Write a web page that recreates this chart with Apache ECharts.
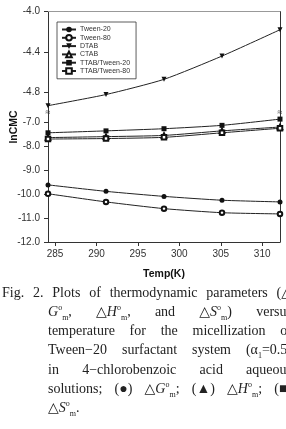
<!DOCTYPE html>
<html>
<head>
<meta charset="utf-8">
<script src="https://cdn.jsdelivr.net/npm/echarts@6/dist/echarts.min.js"></script>
<style>
  html, body { margin: 0; padding: 0; background: #fff; overflow: hidden; }
  #chart { position: absolute; left: 0; top: 0; width: 286px; height: 285px; }
  .cap { position: absolute; font-family: "Liberation Serif", "DejaVu Serif", serif; font-size: 14px;
         line-height: 19.2px; color: #222; white-space: nowrap; }
  .cap .ln { text-align: justify; text-align-last: justify; text-justify: inter-word; white-space: normal; }
  .cap i { font-style: italic; }
  .cap .nb { display: inline-block; white-space: nowrap; }
  .cap sup, .cap sub { font-size: 8px; line-height: 0; }
</style>
</head>
<body>
<div id="chart"></div>
<div class="cap" style="left:2px; top:283px; width:290px;">
  <div class="ln">Fig. 2. Plots of thermodynamic parameters <span class="nb">(△</span></div>
</div>
<div class="cap" style="left:48px; top:302px; width:244px;">
  <div class="ln"><span class="nb"><i>G</i><sup>o</sup><sub>m</sub>,</span> <span class="nb">△<i>H</i><sup>o</sup><sub>m</sub>,</span> and <span class="nb">△<i>S</i><sup>o</sup><sub>m</sub>)</span> versus</div>
  <div class="ln">temperature for the micellization of</div>
  <div class="ln">Tween−20 surfactant system <span class="nb">(α<sub>1</sub>=0.5)</span></div>
  <div class="ln">in 4−chlorobenzoic acid aqueous</div>
  <div class="ln">solutions; <span class="nb">(●)</span> <span class="nb">△<i>G</i><sup>o</sup><sub>m</sub>;</span> <span class="nb">(▲)</span> <span class="nb">△<i>H</i><sup>o</sup><sub>m</sub>;</span> <span class="nb">(■)</span></div>
  <div><span class="nb">△<i>S</i><sup>o</sup><sub>m</sub>.</span></div>
</div>
<script>
// temperatures (K)
const temps = [284.15, 291.15, 298.15, 305.15, 312.15];
// lnCMC values
const tween20 = [-9.62, -9.89, -10.10, -10.26, -10.33];
const tween80 = [-9.99, -10.33, -10.61, -10.78, -10.83];
const dtab = [-4.93, -4.82, -4.67, -4.44, -4.18];
const ctab = [-7.65, -7.61, -7.56, -7.37, -7.21];
const ttabTween20 = [-7.45, -7.37, -7.28, -7.14, -6.88];
const ttabTween80 = [-7.71, -7.69, -7.64, -7.45, -7.26];

const xTicks = [285, 290, 295, 300, 305, 310];
const upperTicks = [-4.8, -4.4, -4.0];
const lowerTicks = [-12, -11, -10, -9, -8, -7];

const pairs = (ys) => temps.map((t, i) => [t, ys[i]]);

const chart = echarts.init(document.getElementById("chart"));

const fmt = (v) => v.toFixed(1);
const labelStyle = { fontSize: 10, color: "#333", fontFamily: "Liberation Sans" };

function series(name, data, symbol, opts) {
  return Object.assign(
    {
      name: name,
      type: "line",
      data: pairs(data),
      symbol: symbol,
      symbolSize: 5,
      smooth: 0.2,
      clip: false,
      xAxisIndex: 1,
      yAxisIndex: 2,
      lineStyle: { color: "#222", width: 1 },
      itemStyle: { color: "#111", borderWidth: 1 },
    },
    opts || {}
  );
}

const option = {
  animation: false,
  textStyle: { fontFamily: "Liberation Sans" },
  grid: [
    { left: 48, right: 6, top: 11.5, height: 101.25 },
    { left: 48, right: 6, top: 112.75, height: 129.25 },
  ],
  legend: {
    orient: "vertical",
    left: 57,
    top: 22,
    itemWidth: 14,
    itemHeight: 7,
    itemGap: 1,
    padding: [4, 6, 4, 4],
    borderColor: "#333",
    borderWidth: 0.8,
    textStyle: { fontSize: 7, lineHeight: 7, color: "#333", padding: [0, 0, 0, -1] },
    data: ["Tween-20", "Tween-80", "DTAB", "CTAB", "TTAB/Tween-20", "TTAB/Tween-80"],
  },
  xAxis: [
    {
      gridIndex: 0,
      type: "value",
      min: 284.15,
      max: 312.15,
      position: "top",
      axisLine: { show: true, lineStyle: { color: "#999", width: 1 } },
      axisTick: { show: false },
      axisLabel: { show: false },
      splitLine: { show: false },
    },
    {
      gridIndex: 1,
      type: "value",
      min: 284.15,
      max: 312.15,
      position: "bottom",
      axisLine: { show: true, lineStyle: { color: "#333", width: 1 } },
      axisTick: { show: true, length: 4, customValues: xTicks, lineStyle: { color: "#333" } },
      axisLabel: Object.assign({ customValues: xTicks, margin: 7 }, labelStyle),
      splitLine: { show: false },
      name: "Temp(K)",
      nameLocation: "middle",
      nameGap: 27,
      nameTextStyle: { fontSize: 10.5, fontWeight: "bold", color: "#111" },
    },
  ],
  yAxis: [
    {
      gridIndex: 0,
      type: "value",
      min: -5.0,
      max: -4.0,
      axisLine: { show: true, lineStyle: { color: "#333", width: 1 } },
      axisTick: { show: true, length: 4, customValues: upperTicks, lineStyle: { color: "#333" } },
      axisLabel: Object.assign({ customValues: upperTicks, formatter: fmt, margin: 8 }, labelStyle),
      splitLine: { show: false },
    },
    {
      gridIndex: 0,
      type: "value",
      position: "right",
      min: -5.0,
      max: -4.0,
      axisLine: { show: true, lineStyle: { color: "#333", width: 1 } },
      axisTick: { show: false },
      axisLabel: { show: false },
      splitLine: { show: false },
    },
    {
      gridIndex: 1,
      type: "value",
      min: -12,
      max: -6.615,
      axisLine: { show: true, lineStyle: { color: "#333", width: 1 } },
      axisTick: { show: true, length: 4, customValues: lowerTicks, lineStyle: { color: "#333" } },
      axisLabel: Object.assign({ customValues: lowerTicks, formatter: fmt, margin: 8 }, labelStyle),
      splitLine: { show: false },
    },
    {
      gridIndex: 1,
      type: "value",
      position: "right",
      min: -12,
      max: -6.615,
      axisLine: { show: true, lineStyle: { color: "#333", width: 1 } },
      axisTick: { show: false },
      axisLabel: { show: false },
      splitLine: { show: false },
    },
  ],
  graphic: [
    {
      type: "text",
      x: 14,
      y: 127,
      rotation: Math.PI / 2,
      style: {
        text: "lnCMC",
        fontSize: 10.5,
        fontWeight: "bold",
        fill: "#111",
        align: "center",
        verticalAlign: "middle",
        fontFamily: "Liberation Sans",
      },
    },
    // axis break marks
    { type: "text", x: 48, y: 112.5, style: { text: "≈", fontSize: 9, fill: "#333", align: "center", verticalAlign: "middle" } },
    { type: "text", x: 280, y: 112.5, style: { text: "≈", fontSize: 9, fill: "#333", align: "center", verticalAlign: "middle" } },
  ],
  series: [
    series("Tween-20", tween20, "circle"),
    series("Tween-80", tween80, "emptyCircle", { symbolSize: 4.5 }),
    series("DTAB", dtab, "triangle", { symbolRotate: 180, xAxisIndex: 0, yAxisIndex: 0 }),
    series("CTAB", ctab, "emptyTriangle", { symbolSize: 4.5 }),
    series("TTAB/Tween-20", ttabTween20, "rect"),
    series("TTAB/Tween-80", ttabTween80, "emptyRect", { symbolSize: 4.5 }),
  ],
};

chart.setOption(option);
</script>
</body>
</html>
